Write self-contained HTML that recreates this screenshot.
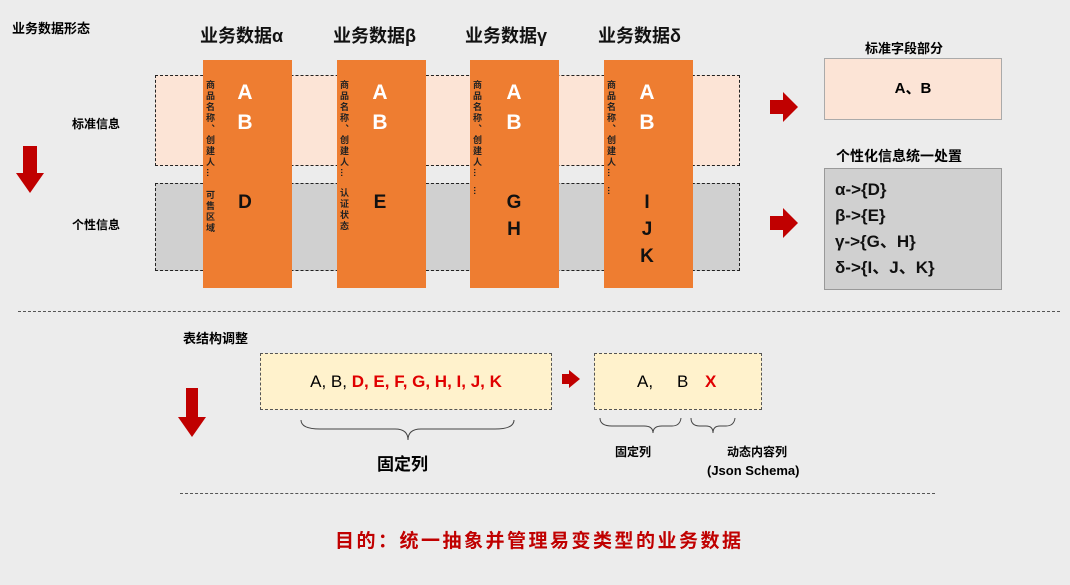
<!DOCTYPE html>
<html><head><meta charset="utf-8"><style>
body{margin:0;width:1070px;height:585px;background:#ececec;position:relative;overflow:hidden;font-family:"Liberation Sans","Noto Sans CJK SC",sans-serif;}
div{position:absolute;box-sizing:border-box;}
.b{font-weight:bold;}
.col{background:#ee7d31;width:89px;top:60px;height:228px;}
.vt{font-size:9px;font-weight:bold;writing-mode:vertical-rl;letter-spacing:2px;line-height:11px;color:#222;}
.L{color:#fff;font-weight:bold;font-size:21px;width:30px;text-align:center;line-height:30px;}
.D{color:#111;font-weight:bold;font-size:19px;width:30px;text-align:center;line-height:27px;}
.h{font-size:18px;font-weight:bold;color:#111;top:22px;}
</style></head><body>
<div class="b" style="left:12px;top:18px;font-size:13px;">业务数据形态</div>
<div class="h" style="left:200px;">业务数据α</div>
<div class="h" style="left:333px;">业务数据β</div>
<div class="h" style="left:465px;">业务数据γ</div>
<div class="h" style="left:598px;">业务数据δ</div>

<div style="left:155px;top:75px;width:585px;height:91px;background:#fce4d6;border:1px dashed #222;"></div>
<div style="left:155px;top:183px;width:585px;height:88px;background:#d0d0d0;border:1px dashed #222;"></div>
<div class="b" style="left:72px;top:115px;font-size:12px;">标准信息</div>
<div class="b" style="left:72px;top:216px;font-size:12px;">个性信息</div>
<div style="left:23px;top:146px;width:14px;height:28px;background:#c00000;"></div>
<div style="left:16px;top:173px;border-left:14px solid transparent;border-right:14px solid transparent;border-top:20px solid #c00000;"></div>

<div class="col" style="left:203px"></div>
<div class="col" style="left:337px"></div>
<div class="col" style="left:470px"></div>
<div class="col" style="left:604px"></div>

<div class="vt" style="left:204px;top:80px;">商品名称、创建人…</div>
<div class="vt" style="left:204px;top:190px;">可售区域</div>
<div class="vt" style="left:338px;top:80px;">商品名称、创建人…</div>
<div class="vt" style="left:338px;top:188px;">认证状态</div>
<div class="vt" style="left:471px;top:80px;">商品名称、创建人…</div>
<div class="vt" style="left:471px;top:186px;">…</div>
<div class="vt" style="left:605px;top:80px;">商品名称、创建人…</div>
<div class="vt" style="left:605px;top:186px;">…</div>

<div class="L" style="left:230px;top:78px;">A<br>B</div>
<div class="L" style="left:365px;top:78px;">A<br>B</div>
<div class="L" style="left:499px;top:78px;">A<br>B</div>
<div class="L" style="left:632px;top:78px;">A<br>B</div>
<div class="D" style="left:230px;top:189px;">D</div>
<div class="D" style="left:365px;top:189px;">E</div>
<div class="D" style="left:499px;top:189px;">G<br>H</div>
<div class="D" style="left:632px;top:189px;">I<br>J<br>K</div>

<div style="left:770px;top:100px;width:14px;height:14px;background:#c00000;"></div>
<div style="left:783px;top:92px;border-top:15px solid transparent;border-bottom:15px solid transparent;border-left:15px solid #c00000;"></div>
<div style="left:770px;top:216px;width:14px;height:14px;background:#c00000;"></div>
<div style="left:783px;top:208px;border-top:15px solid transparent;border-bottom:15px solid transparent;border-left:15px solid #c00000;"></div>

<div class="b" style="left:865px;top:38px;font-size:13px;">标准字段部分</div>
<div style="left:824px;top:58px;width:178px;height:62px;background:#fce4d6;border:1px solid #aaa;font-weight:bold;font-size:15px;text-align:center;line-height:60px;">A、B</div>
<div class="b" style="left:836px;top:146px;font-size:14px;">个性化信息统一处置</div>
<div style="left:824px;top:168px;width:178px;height:122px;background:#d0d0d0;border:1px solid #999;font-weight:bold;font-size:17px;line-height:26px;padding:8px 0 0 10px;color:#111;">α->{D}<br>β->{E}<br>γ->{G、H}<br>δ->{I、J、K}</div>

<div style="left:18px;top:311px;width:1042px;border-top:1px dashed #555;"></div>

<div class="b" style="left:183px;top:328px;font-size:13px;">表结构调整</div>
<div style="left:186px;top:388px;width:12px;height:30px;background:#c00000;"></div>
<div style="left:178px;top:417px;border-left:14px solid transparent;border-right:14px solid transparent;border-top:20px solid #c00000;"></div>

<div style="left:260px;top:353px;width:292px;height:57px;background:#fff2cc;border:1px dashed #555;font-size:17px;text-align:center;line-height:56px;"><span>A, B, </span><span style="color:#e00000;font-weight:bold;">D, E, F, G, H, I, J, K</span></div>
<div style="left:562px;top:374px;width:8px;height:10px;background:#c00000;"></div>
<div style="left:569px;top:370px;border-top:9px solid transparent;border-bottom:9px solid transparent;border-left:11px solid #c00000;"></div>
<div style="left:594px;top:353px;width:168px;height:57px;background:#fff2cc;border:1px dashed #555;font-size:17px;line-height:56px;"><span style="position:absolute;left:42px;">A,</span><span style="position:absolute;left:82px;">B</span><span style="position:absolute;left:110px;color:#e00000;font-weight:bold;">X</span></div>

<svg style="position:absolute;left:0;top:0" width="1070" height="585">
<g fill="none" stroke="#444" stroke-width="1">
<path d="M301 420 Q301 429 320 429 L395 429 Q408 429 408 440 Q408 429 421 429 L495 429 Q514 429 514 420"/>
<path d="M600 418 Q600 426 612 426 L644 426 Q653 426 653 433 Q653 426 662 426 L672 426 Q680 426 681 418"/>
<path d="M691 418 Q691 426 700 426 L706 426 Q713 426 713 433 Q713 426 720 426 L726 426 Q734 426 735 418"/>
</g></svg>
<div class="b" style="left:377px;top:450px;font-size:17px;">固定列</div>
<div class="b" style="left:615px;top:443px;font-size:12px;">固定列</div>
<div class="b" style="left:727px;top:443px;font-size:12px;">动态内容列</div>
<div class="b" style="left:707px;top:463px;font-size:13px;">(Json Schema)</div>

<div style="left:180px;top:493px;width:755px;border-top:1px dashed #555;"></div>
<div class="b" style="left:335px;top:526px;font-size:19px;letter-spacing:2.5px;color:#c00000;white-space:nowrap;">目的：统一抽象并管理易变类型的业务数据</div>
</body></html>
